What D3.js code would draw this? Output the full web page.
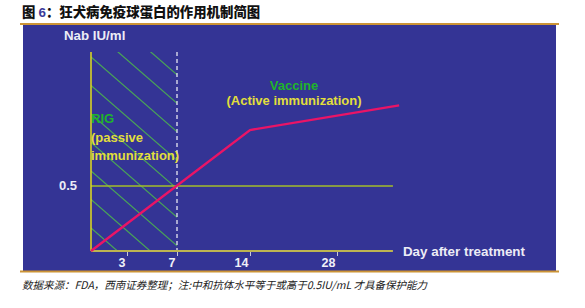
<!DOCTYPE html>
<html>
<head>
<meta charset="utf-8">
<script src="https://cdn.jsdelivr.net/npm/d3@7"></script>
<style>
  html, body { margin: 0; padding: 0; background: #fff; }
  svg { display: block; }
  .lat { font-family: "Liberation Sans", Arial, sans-serif; font-weight: bold; }
  .cjk { font-family: "Noto Sans CJK SC", sans-serif; }
</style>
</head>
<body>
<div id="chart"></div>
<script>
// 狂犬病免疫球蛋白的作用机制简图 — 示意图，数据为读图估计值

var TITLE_PRE = '图 ';
var TITLE_NUM = '6';
var TITLE_TXT = '：狂犬病免疫球蛋白的作用机制简图';
var FOOTER = '数据来源：FDA，西南证券整理；注:中和抗体水平等于或高于0.5IU/mL 才具备保护能力';

// 横轴（治疗后天数），示意刻度并非等距
var tickDays = [3, 7, 14, 28];
var axisEndDay = 37;
var yMax = 1.53;

// 中和抗体曲线（疫苗，主动免疫）
var curveDays = [0, 14, 38];
var curveVals = [0, 0.93, 1.12];

// 保护水平线及被动免疫阶段
var protectLevel = 0.5;
var protectLabel = '0.5';
var passiveEndDay = 7;

var W = 585, H = 308;

var svg = d3.select('#chart').append('svg')
  .attr('width', W).attr('height', H);

// ── 标题 ──
var title = svg.append('text')
  .attr('class', 'cjk')
  .attr('x', 22).attr('y', 17)
  .attr('font-size', 13.4).attr('font-weight', 900)
  .attr('fill', '#111');
title.append('tspan').text(TITLE_PRE);
title.append('tspan').attr('fill', '#3b3b9a').attr('font-family', 'Liberation Sans, Arial').text(TITLE_NUM);
title.append('tspan').text(TITLE_TXT);

// ── 背景面板 ──
svg.append('rect')
  .attr('x', 23).attr('y', 25).attr('width', 533).attr('height', 246)
  .attr('fill', '#343495');
svg.append('rect').attr('x', 20).attr('y', 23).attr('width', 539).attr('height', 2).attr('fill', '#cc9436');
svg.append('rect').attr('x', 20).attr('y', 270.5).attr('width', 539).attr('height', 2).attr('fill', '#cc9436');

// ── 比例尺 ──
var x = d3.scaleLinear().domain([0].concat(tickDays)).range([91, 127, 177, 250, 337]);
var y = d3.scaleLinear().domain([0, yMax]).range([251, 52]);

// ── 被动免疫阶段斜线阴影 ──
svg.append('clipPath').attr('id', 'hatchClip')
  .append('rect')
  .attr('x', x(0)).attr('y', y(yMax))
  .attr('width', x(passiveEndDay) - x(0)).attr('height', y(0) - y(yMax));

var slope = 0.87, step = 28.5;
var hatchOffsets = d3.range(-4, 8).map(function (i) { return y(yMax) + 5 + i * step; });
svg.append('g').attr('clip-path', 'url(#hatchClip)')
  .selectAll('line').data(hatchOffsets).enter().append('line')
  .attr('x1', x(0)).attr('y1', function (c) { return c; })
  .attr('x2', x(passiveEndDay) + 10)
  .attr('y2', function (c) { return c + slope * (x(passiveEndDay) + 10 - x(0)); })
  .attr('stroke', '#4aa556').attr('stroke-width', 1.2);

// ── 保护水平线 ──
svg.append('line')
  .attr('x1', x(0)).attr('x2', x(axisEndDay))
  .attr('y1', y(protectLevel)).attr('y2', y(protectLevel))
  .attr('stroke', '#a3bd2a').attr('stroke-width', 1.6);

// ── 第7天虚线 ──
svg.append('line')
  .attr('x1', x(passiveEndDay)).attr('x2', x(passiveEndDay))
  .attr('y1', y(yMax)).attr('y2', y(0))
  .attr('stroke', '#e6e6f2').attr('stroke-width', 1.3)
  .attr('stroke-dasharray', '4,3');

// ── 坐标轴 ──
svg.append('line')
  .attr('x1', x(0)).attr('x2', x(0))
  .attr('y1', y(yMax)).attr('y2', y(0))
  .attr('stroke', '#e2dc1c').attr('stroke-width', 1.5);

var xAxis = d3.axisBottom(x).tickValues(tickDays).tickSize(5).tickFormat(d3.format('d'));
var gx = svg.append('g').attr('transform', 'translate(0,' + y(0) + ')').call(xAxis);
gx.select('.domain').remove();
gx.selectAll('.tick line').attr('stroke', '#c8c8d8').attr('stroke-width', 1);
gx.selectAll('.tick text')
  .attr('class', 'lat')
  .attr('fill', '#f0f0f8').attr('font-size', 12.5)
  .attr('text-anchor', 'end').attr('x', -2).attr('y', 5).attr('dy', '0.9em');
gx.append('line')
  .attr('x1', x(0)).attr('x2', x(axisEndDay))
  .attr('y1', 0).attr('y2', 0)
  .attr('stroke', '#bdb451').attr('stroke-width', 2.2);

// ── 抗体曲线 ──
var pts = curveDays.map(function (d, i) { return [d, curveVals[i]]; });
svg.append('path')
  .datum(pts)
  .attr('fill', 'none')
  .attr('stroke', '#ea1466').attr('stroke-width', 2.4)
  .attr('d', d3.line().x(function (d) { return x(d[0]); }).y(function (d) { return y(d[1]); }));

// ── 文字标注 ──
function label(tx, ty, txt, color, size, anchor) {
  return svg.append('text')
    .attr('class', 'lat')
    .attr('x', tx).attr('y', ty)
    .attr('fill', color).attr('font-size', size)
    .attr('text-anchor', anchor || 'start')
    .attr('dominant-baseline', 'central')
    .text(txt);
}

label(64, 35, 'Nab IU/ml', '#ececf6', 13.3);
label(x(0) - 14, y(protectLevel), protectLabel, '#ececf6', 13, 'end');
label(x(axisEndDay) + 10, y(0), 'Day after treatment', '#ececf6', 13.4);

label(x(0), 118, 'RIG', '#1fb52a', 13);
label(x(0), 137, '(passive', '#e2df3c', 13);
label(x(0), 155, 'immunization)', '#e2df3c', 13);

label(294, 85, 'Vaccine', '#1fb52a', 13, 'middle');
label(294, 100, '(Active immunization)', '#e2df3c', 13, 'middle');

// ── 脚注 ──
svg.append('text')
  .attr('class', 'cjk')
  .attr('x', 22).attr('y', 289)
  .attr('font-size', 10.5).attr('font-style', 'italic')
  .attr('fill', '#222')
  .text(FOOTER);
</script>
</body>
</html>
